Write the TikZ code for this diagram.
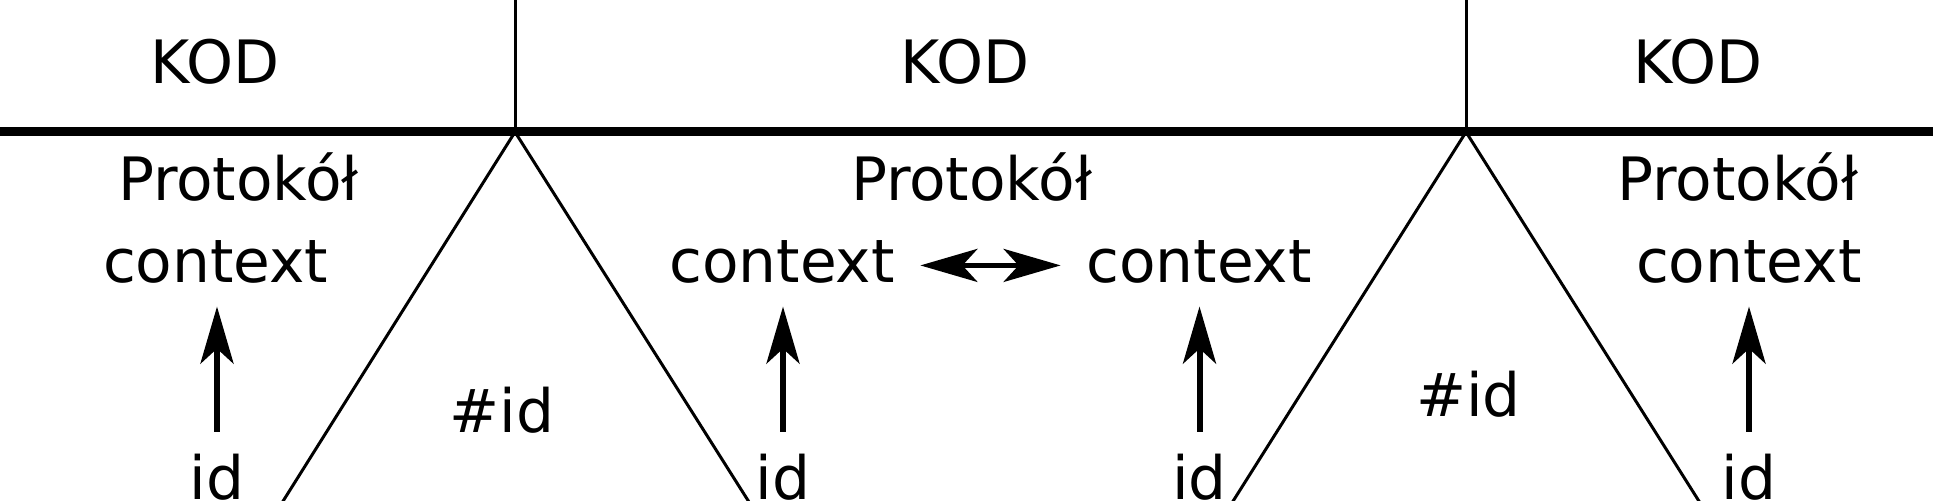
\documentclass[tikz,border=0pt]{standalone}
\usepackage{fontspec}
\setmainfont{DejaVu Sans}
\usetikzlibrary{arrows.meta}
\begin{document}
\begin{tikzpicture}[x=0.01cm,y=-0.01cm,
  txt/.style={anchor=base,inner sep=0pt,font=\fontsize{17pt}{20pt}\selectfont},
  thin line/.style={line width=0.85pt},
  thick rule/.style={line width=2.56pt},
  vec/.style={line width=1.7pt,-{Stealth[length=0.57cm,width=0.33cm,inset=0.15cm]},shorten <=0.22cm,shorten >=0.22cm},
  dvec/.style={line width=1.4pt,{Stealth[length=0.57cm,width=0.33cm,inset=0.15cm]}-{Stealth[length=0.57cm,width=0.33cm,inset=0.15cm]},shorten <=0.25cm,shorten >=0.25cm}]
\useasboundingbox (0,0) rectangle (1933,501);
% rule and separators
\coordinate (L) at (0,132);
\coordinate (R) at (1933,132);
\coordinate (a1) at (515,132);
\coordinate (a2) at (1466,132);
\coordinate (t1) at (515,0);
\coordinate (t2) at (1466,0);
\coordinate (b1l) at (282.5,502);
\coordinate (b1r) at (749,502);
\coordinate (b2l) at (1232.5,502);
\coordinate (b2r) at (1699.5,502);
\draw[thick rule] (L) -- (R);
\draw[thin line] (t1) -- (a1);
\draw[thin line] (t2) -- (a2);
\draw[thin line] (b1l) -- (a1) -- (b1r);
\draw[thin line] (b2l) -- (a2) -- (b2r);
% texts
\node[txt] (k1) at (215,84) {KOD};
\node[txt] (k2) at (965,84) {KOD};
\node[txt] (k3) at (1697.6,84) {KOD};
\node[txt] (p1) at (238.5,201) {Protokół};
\node[txt] (p2) at (971.5,201) {Protokół};
\node[txt] (p3) at (1737.6,201) {Protokół};
\node[txt] (c1) at (215.7,283) {context};
\node[txt] (c2) at (782,283) {context};
\node[txt] (c3) at (1199,283) {context};
\node[txt] (c4) at (1748.7,283) {context};
\node[txt] (i1) at (217,500) {id};
\node[txt] (i2) at (783,500) {id};
\node[txt] (i3) at (1199.5,500) {id};
\node[txt] (i4) at (1749,500) {id};
\node[txt] (h1) at (502,433) {\#id};
\node[txt] (h2) at (1468.5,417) {\#id};
% arrows
\draw[vec] (i1.north) -- (i1.north |- c1.south);
\draw[vec] (i2.north) -- (i2.north |- c2.south);
\draw[vec] (i3.north) -- (i3.north |- c3.south);
\draw[vec] (i4.north) -- (i4.north |- c4.south);
\draw[dvec] ([yshift=-0.03cm]c2.east) -- ([yshift=-0.03cm]c3.west);
\end{tikzpicture}
\end{document}
